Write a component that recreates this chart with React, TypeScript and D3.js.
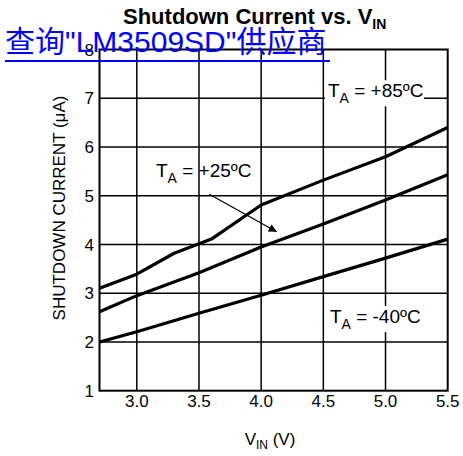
import React from "react";
import * as d3 from "d3";

const xTicks = [3.0, 3.5, 4.0, 4.5, 5.0, 5.5];
const yTicks = [1, 2, 3, 4, 5, 6, 7, 8];

const vin85 = [2.7, 3.0, 3.3, 3.6, 4.0, 4.5, 5.0, 5.5];
const cur85 = [3.1, 3.39, 3.82, 4.11, 4.81, 5.32, 5.8, 6.4];
const vin25 = [2.7, 3.0, 3.5, 4.0, 4.5, 5.0, 5.5];
const cur25 = [2.62, 2.95, 3.42, 3.95, 4.42, 4.91, 5.43];
const vinM40 = [2.7, 3.0, 3.5, 4.0, 4.5, 5.0, 5.5];
const curM40 = [2.0, 2.21, 2.59, 2.96, 3.34, 3.72, 4.11];

const W = 463;
const H = 456;
const FONT = "'Liberation Sans', Arial, Helvetica, sans-serif";

export default function App() {
  const x = d3.scaleLinear().domain([2.7, 5.5]).range([99.5, 447.7]);
  const y = d3.scaleLinear().domain([1, 8]).range([390.7, 49.5]);
  const line = d3
    .line<[number, number]>()
    .x((d) => x(d[0]))
    .y((d) => y(d[1]))
    .curve(d3.curveLinear);

  const series = [
    vin85.map((v, i) => [v, cur85[i]] as [number, number]),
    vin25.map((v, i) => [v, cur25[i]] as [number, number]),
    vinM40.map((v, i) => [v, curM40[i]] as [number, number]),
  ];

  const x0 = x(2.7), x1 = x(5.5), y0 = y(1), y1 = y(8);

  const label = (tx: number, ty: number, sign: string, bg: boolean) => {
    const px = x(tx);
    const py = y(ty);
    return (
      <g>
        {bg && <rect x={px - 3} y={py - 17} width={99} height={26} fill="#fff" />}
        <text x={px} y={py} fontFamily={FONT} fontSize={19} fill="#000">
          T
          <tspan fontSize={14} dy={6}>A</tspan>
          <tspan dy={-6}>{" = " + sign}</tspan>
          <tspan>ºC</tspan>
        </text>
      </g>
    );
  };

  const a0 = [x(3.583), y(5.03)];
  const a1 = [x(4.125), y(4.26)];

  return (
    <div style={{ position: "absolute", left: 0, top: 0 }}>
      <svg width={W} height={H} style={{ display: "block", background: "#fff" }}>
        <defs>
          <marker id="arr" viewBox="0 0 10 10" refX="10" refY="5" markerWidth="10" markerHeight="8" orient="auto" markerUnits="userSpaceOnUse">
            <path d="M0,0 L10,5 L0,10 z" fill="#000" />
          </marker>
        </defs>
        <rect x={0} y={0} width={W} height={H} fill="#fff" />
        {/* grid */}
        {xTicks.slice(0, -1).map((t) => (
          <line key={"gx" + t} x1={x(t)} x2={x(t)} y1={y1} y2={y0} stroke="#000" strokeWidth={1.5} />
        ))}
        {yTicks.slice(1, -1).map((t) => (
          <line key={"gy" + t} x1={x0} x2={x1} y1={y(t)} y2={y(t)} stroke="#000" strokeWidth={1.5} />
        ))}
        {/* curves */}
        {series.map((s, i) => (
          <path key={i} d={line(s) || ""} fill="none" stroke="#000" strokeWidth={3.2} strokeLinejoin="round" />
        ))}
        {/* frame */}
        <rect x={x0} y={y1} width={x1 - x0} height={y0 - y1} fill="none" stroke="#000" strokeWidth={2} />
        {/* labels */}
        {label(4.537, 7.02, "+85", true)}
        {label(3.154, 5.39, "+25", false)}
        {label(4.553, 2.39, "-40", true)}
        <line x1={a0[0]} y1={a0[1]} x2={a1[0]} y2={a1[1]} stroke="#000" strokeWidth={1.2} markerEnd="url(#arr)" />
        {/* ticks */}
        {xTicks.map((t) => (
          <text key={"xt" + t} x={x(t)} y={407} textAnchor="middle" fontFamily={FONT} fontSize={17} fill="#000">
            {d3.format(".1f")(t)}
          </text>
        ))}
        {yTicks.map((t) => (
          <text key={"yt" + t} x={94} y={y(t)} dy="0.36em" textAnchor="end" fontFamily={FONT} fontSize={17} fill="#000">
            {t}
          </text>
        ))}
        {/* axis titles */}
        <text x={270} y={445} textAnchor="middle" fontFamily={FONT} fontSize={17} fill="#000">
          V<tspan fontSize={12} dy={4}>IN</tspan>
          <tspan dy={-4}> (V)</tspan>
        </text>
        <text transform={`translate(65,208) rotate(-90)`} textAnchor="middle" fontFamily={FONT} fontSize={17} fill="#000">
          SHUTDOWN CURRENT (μA)
        </text>
        <text x={123} y={24} fontFamily={FONT} fontSize={22} fontWeight="bold" fill="#000">
          Shutdown Current vs. V<tspan fontSize={14} dy={5}>IN</tspan>
        </text>
        {/* overlay link */}
        <text x={5} y={52} fontFamily="'Liberation Sans', 'Noto Sans CJK SC', sans-serif" fontSize={30} fill="#0000ff">
          查询"LM3509SD"供应商
        </text>
        <line x1={5} x2={330} y1={61} y2={61} stroke="#0000ff" strokeWidth={2} />
      </svg>
    </div>
  );
}
